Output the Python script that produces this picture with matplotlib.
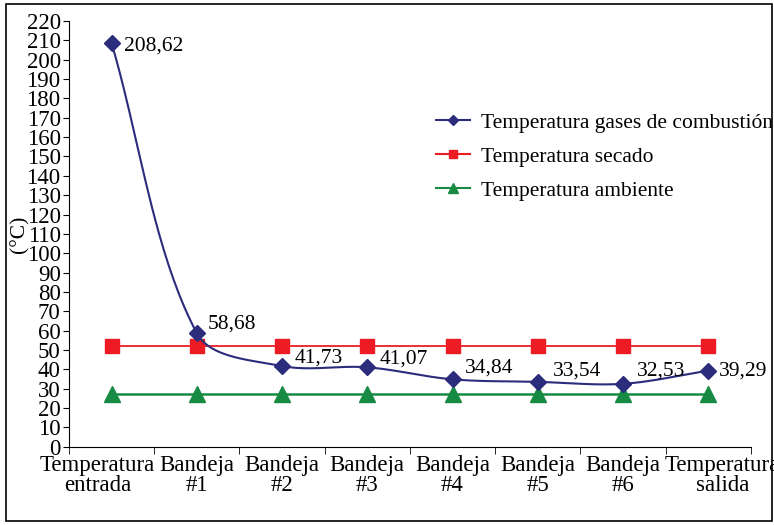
import numpy as np
import matplotlib.pyplot as plt
import matplotlib.transforms as mtransforms
from matplotlib.patches import Rectangle
from matplotlib.lines import Line2D

plt.rcParams['font.family'] = ['Liberation Serif', 'DejaVu Serif']

categories = ["Temperatura\nentrada", "Bandeja\n#1", "Bandeja\n#2", "Bandeja\n#3",
              "Bandeja\n#4", "Bandeja\n#5", "Bandeja\n#6", "Temperatura\nsalida"]
gases = [208.62, 58.68, 41.73, 41.07, 34.84, 33.54, 32.53, 39.29]
gases_labels = ["208,62", "58,68", "41,73", "41,07", "34,84", "33,54", "32,53", "39,29"]
secado = [52] * 8
ambiente = [27.5] * 8

navy = "#2B2C7C"
red = "#ED1C24"
green = "#178A43"
FS = 15.5
TFS = 16.5


def smooth(x, y, sx=85.0, sy=1.93, n=40):
    # spreadsheet-style smoothed line: cubic Bezier, control points weighted
    # by segment lengths measured in screen units
    P = np.column_stack([np.asarray(x, float) * sx, np.asarray(y, float) * sy])
    m = len(P)
    d = np.linalg.norm(np.diff(P, axis=0), axis=1)
    out = []
    t = np.linspace(0, 1, n)[:, None]
    for i in range(m - 1):
        p1, p2 = P[i], P[i + 1]
        if i == 0:
            c1 = p1 + (p2 - p1) / 3
        else:
            c1 = p1 + (p2 - P[i - 1]) * d[i] / (d[i - 1] + d[i]) / 3
        if i == m - 2:
            c2 = p2 - (p2 - p1) / 3
        else:
            c2 = p2 - (P[i + 2] - p1) * d[i] / (d[i] + d[i + 1]) / 3
        seg = ((1 - t) ** 3 * p1 + 3 * (1 - t) ** 2 * t * c1
               + 3 * (1 - t) * t ** 2 * c2 + t ** 3 * p2)
        out.append(seg)
    pts = np.vstack(out)
    return pts[:, 0] / sx, pts[:, 1] / sy


fig = plt.figure(figsize=(7.74, 5.25), dpi=100)
ax = fig.add_axes([0.0891, 0.149, 0.881, 0.811])

x = np.arange(len(categories))
cx, cy = smooth(x, gases)
ax.plot(cx, cy, color=navy, lw=1.5, zorder=3)
ax.plot(x, gases, ls="none", marker="D", ms=8, color=navy, zorder=4)
ax.plot(x, secado, color=red, lw=1.3, marker="s", ms=10, zorder=2)
ax.plot(x, ambiente, color=green, lw=1.8, marker="^", ms=11, zorder=2)

offsets = [(9, -2), (8, 0), (9, -1), (9, -1), (9, 1), (11, 1), (10, 2), (8, 0)]
valign = ["center", "bottom", "bottom", "bottom", "bottom", "bottom", "bottom", "center"]
for xi, yi, lab, off, va in zip(x, gases, gases_labels, offsets, valign):
    ax.annotate(lab, (xi, yi), xytext=off, textcoords="offset points",
                fontsize=FS, ha="left", va=va)

ax.set_xlim(-0.5, len(categories) - 0.5)
ax.set_ylim(0, 220)
ax.set_yticks(np.arange(0, 221, 10))
ax.set_xticks(x)
ax.set_xticklabels(categories, fontsize=TFS, linespacing=0.9)
ax.set_xticks(np.arange(-0.5, len(categories)), minor=True)
ax.tick_params(axis="x", which="major", length=0, pad=6)
ax.tick_params(axis="x", which="minor", length=5, direction="out")
ax.tick_params(axis="y", length=4, direction="out", labelsize=TFS, pad=2)
ax.spines["top"].set_visible(False)
ax.spines["right"].set_visible(False)
ax.set_ylabel("(°C)", fontsize=FS, labelpad=-2)

# edge labels are pushed outward, as in the original
xl = ax.get_xticklabels()
xl[0].set_transform(xl[0].get_transform()
                    + mtransforms.ScaledTranslation(-14 / 100, 0, fig.dpi_scale_trans))
xl[-1].set_transform(xl[-1].get_transform()
                     + mtransforms.ScaledTranslation(14 / 100, 0, fig.dpi_scale_trans))

handles = [Line2D([], [], color=navy, marker="D", ms=5, lw=1.5),
           Line2D([], [], color=red, marker="s", ms=6, lw=1.5),
           Line2D([], [], color=green, marker="^", ms=7, lw=1.5)]
ax.legend(handles, ["Temperatura gases de combustión", "Temperatura secado",
                    "Temperatura ambiente"],
          loc="upper left", bbox_to_anchor=(0.525, 0.805), frameon=False,
          fontsize=FS, handlelength=1.6, labelspacing=0.65, handletextpad=0.5,
          borderaxespad=0)

fig.patches.append(Rectangle((0.008, 0.008), 0.99, 0.984, transform=fig.transFigure,
                             fill=False, edgecolor="black", lw=1.2))
fig.savefig("out.png", dpi=100)
